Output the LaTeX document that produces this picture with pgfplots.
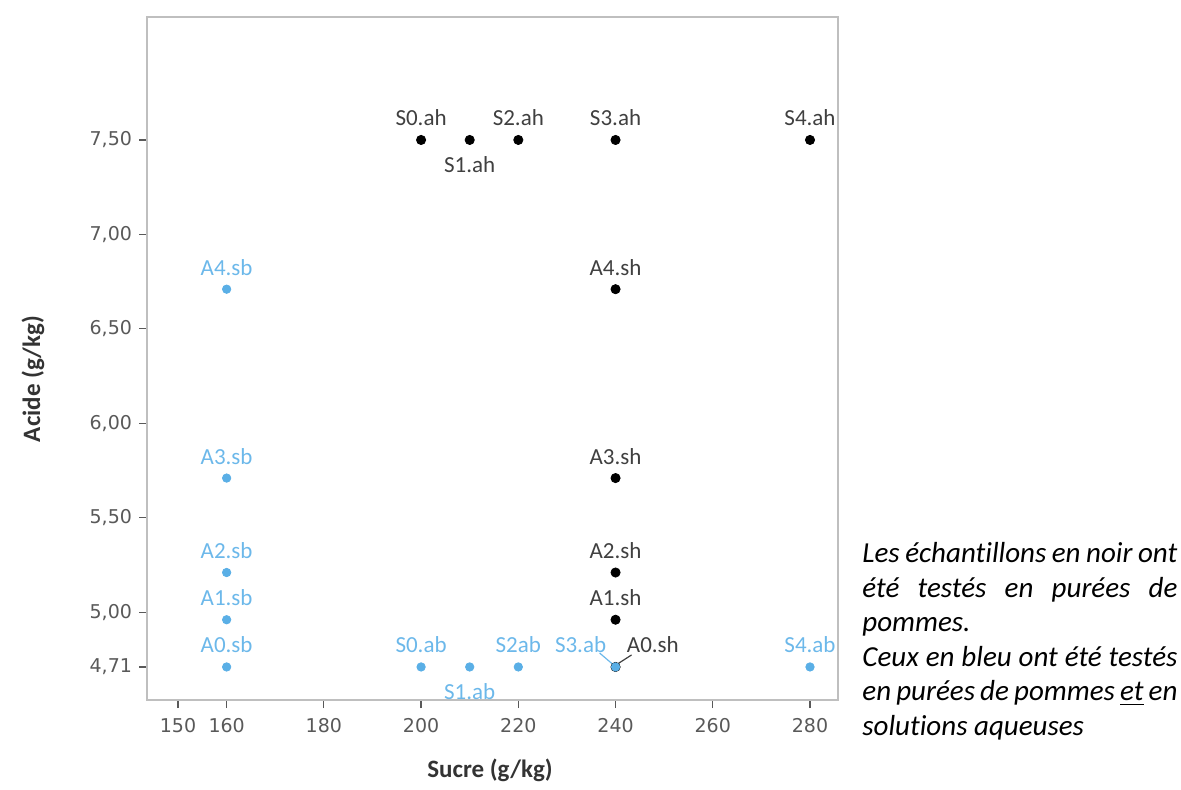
\documentclass[border=0pt]{standalone}
\usepackage{pgfplots}
\pgfplotsset{compat=1.18}
\usepackage{fontspec}
\setmainfont{Carlito}[Ligatures={NoCommon}]
\newfontfamily\tickfont{DejaVu Sans}
\definecolor{bluept}{HTML}{5AAFE6}
\definecolor{bluelab}{HTML}{6CB8EA}
\definecolor{darklab}{HTML}{404040}
\definecolor{ticklab}{HTML}{595959}
\definecolor{framec}{HTML}{BFBFBF}
\tikzset{lab/.style={font=\fontsize{11.5}{13}\selectfont, anchor=base, inner sep=0pt}}
\begin{document}
\begin{tikzpicture}[x=1pt,y=1pt]
\path[use as bounding box] (0,0) rectangle (590.5,394.5);
\begin{axis}[
  at={(73.5pt,44.5pt)}, anchor=south west,
  scale only axis, width=345.5pt, height=341.5pt,
  xmin=143.62, xmax=285.76, ymin=4.535, ymax=8.151,
  xtick={150,160,180,200,220,240,260,280},
  ytick={4.71,5,5.5,6,6.5,7,7.5},
  yticklabels={{4,71},{5,00},{5,50},{6,00},{6,50},{7,00},{7,50}},
  /pgf/number format/assume math mode=true,
  xtick pos=left, ytick pos=left, tick align=outside,
  major tick length=4pt,
  tick style={color=black!65, line width=0.6pt},
  tick label style={font=\tickfont\fontsize{9.5}{11}\selectfont, text=ticklab},
  xticklabel style={yshift=-1.5pt},
  axis line style={color=framec, line width=0.8pt},
  clip=false,
]
\addplot[only marks, mark=*, mark size=2.3pt, black] coordinates {
 (200,7.5) (210,7.5) (220,7.5) (240,7.5) (280,7.5)
 (240,6.71) (240,5.71) (240,5.21) (240,4.96) (240,4.71)};
\addplot[only marks, mark=*, mark size=2.1pt, color=bluept, mark options={draw=bluept, fill=bluept}] coordinates {
 (160,6.71) (160,5.71) (160,5.21) (160,4.96) (160,4.71)
 (200,4.71) (210,4.71) (220,4.71) (240,4.71) (280,4.71)};
% black labels
\node[lab, darklab, yshift=7pt] at (axis cs:200,7.5) {S0.ah};
\node[lab, darklab, yshift=-16.5pt] at (axis cs:210,7.5) {S1.ah};
\node[lab, darklab, yshift=7pt] at (axis cs:220,7.5) {S2.ah};
\node[lab, darklab, yshift=7pt] at (axis cs:240,7.5) {S3.ah};
\node[lab, darklab, yshift=7pt] at (axis cs:280,7.5) {S4.ah};
\node[lab, darklab, yshift=7pt] at (axis cs:240,6.71) {A4.sh};
\node[lab, darklab, yshift=7pt] at (axis cs:240,5.71) {A3.sh};
\node[lab, darklab, yshift=7pt] at (axis cs:240,5.21) {A2.sh};
\node[lab, darklab, yshift=7pt] at (axis cs:240,4.96) {A1.sh};
\node[lab, darklab, anchor=base west, xshift=5.5pt, yshift=7pt] at (axis cs:240,4.71) {A0.sh};
% blue labels
\node[lab, bluelab, yshift=7pt] at (axis cs:160,6.71) {A4.sb};
\node[lab, bluelab, yshift=7pt] at (axis cs:160,5.71) {A3.sb};
\node[lab, bluelab, yshift=7pt] at (axis cs:160,5.21) {A2.sb};
\node[lab, bluelab, yshift=7pt] at (axis cs:160,4.96) {A1.sb};
\node[lab, bluelab, yshift=7pt] at (axis cs:160,4.71) {A0.sb};
\node[lab, bluelab, yshift=7pt] at (axis cs:200,4.71) {S0.ab};
\node[lab, bluelab, yshift=-16.5pt] at (axis cs:210,4.71) {S1.ab};
\node[lab, bluelab, yshift=7pt] at (axis cs:220,4.71) {S2ab};
\node[lab, bluelab, anchor=base east, xshift=-4.5pt, yshift=7pt] at (axis cs:240,4.71) {S3.ab};
\node[lab, bluelab, yshift=7pt] at (axis cs:280,4.71) {S4.ab};
% leader lines
\draw[bluelab, line width=0.6pt] ([xshift=-8pt,yshift=7pt]axis cs:240,4.71) -- ([xshift=-1pt,yshift=1pt]axis cs:240,4.71);
\draw[darklab, line width=0.6pt] ([xshift=1pt,yshift=1.5pt]axis cs:240,4.71) -- ([xshift=8pt,yshift=6pt]axis cs:240,4.71);
\end{axis}
\node[font=\bfseries\fontsize{12.5}{15}\selectfont, text=black!80] at (245,9.5) {Sucre (g/kg)};
\node[font=\bfseries\fontsize{12.5}{15}\selectfont, text=black!80, rotate=90] at (16.5,205) {Acide (g/kg)};
\node[anchor=north west, inner sep=0pt, text width=157.5pt, align=justify, font=\itshape\fontsize{14.5}{17.3}\selectfont] at (431,123.5) {\hyphenpenalty=10000 Les échantillons en noir ont\linebreak été testés en purées de\linebreak pommes.\\ Ceux en bleu ont été testés\linebreak en purées de pommes \underline{et} en\linebreak solutions aqueuses};
\end{tikzpicture}
\end{document}
